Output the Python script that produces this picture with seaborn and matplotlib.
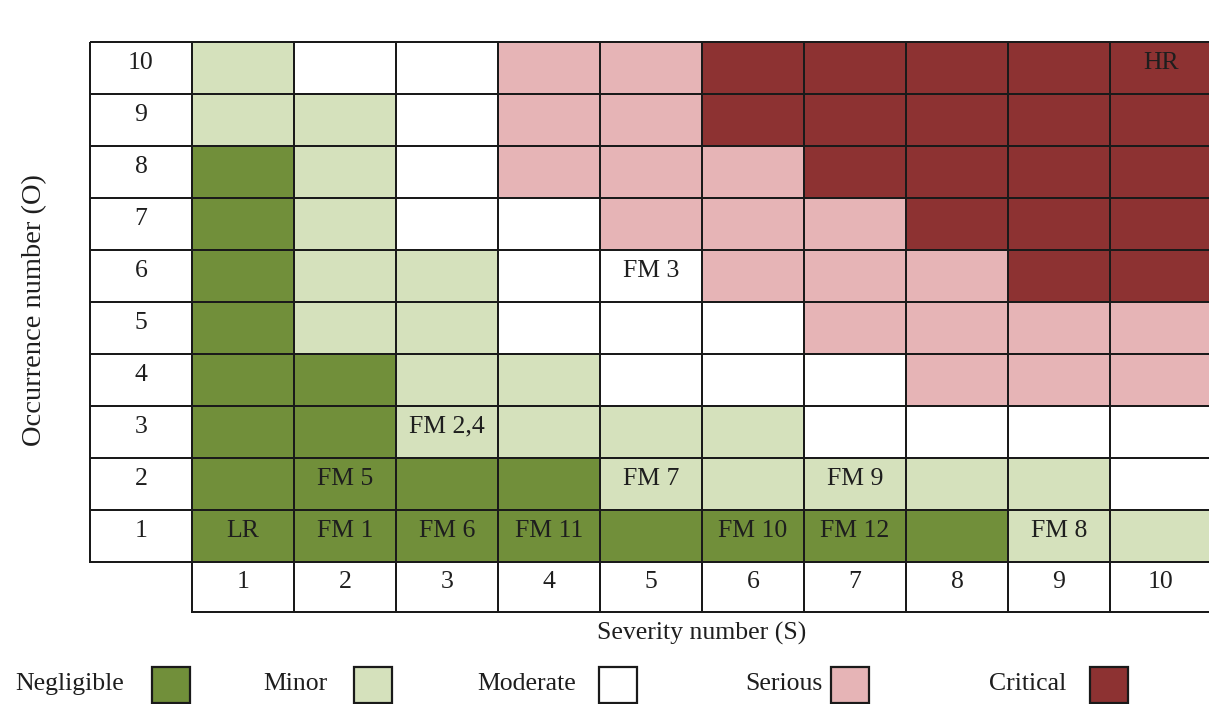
import numpy as np
import pandas as pd
import seaborn as sns
import matplotlib.pyplot as plt
from matplotlib.colors import ListedColormap
from matplotlib.patches import Rectangle

# ---------------- data ----------------
levels = ["Negligible", "Minor", "Moderate", "Serious", "Critical"]
level_colors = ["#718f3a", "#d5e1bc", "#ffffff", "#e6b4b6", "#8d3232"]
severity = [1, 2, 3, 4, 5, 6, 7, 8, 9, 10]
occurrence = [10, 9, 8, 7, 6, 5, 4, 3, 2, 1]
# risk level index (0=Negligible .. 4=Critical) per occurrence row, top (O=10) to bottom (O=1)
risk_o10 = [1, 2, 2, 3, 3, 4, 4, 4, 4, 4]
risk_o9 = [1, 1, 2, 3, 3, 4, 4, 4, 4, 4]
risk_o8 = [0, 1, 2, 3, 3, 3, 4, 4, 4, 4]
risk_o7 = [0, 1, 2, 2, 3, 3, 3, 4, 4, 4]
risk_o6 = [0, 1, 1, 2, 2, 3, 3, 3, 4, 4]
risk_o5 = [0, 1, 1, 2, 2, 2, 3, 3, 3, 3]
risk_o4 = [0, 0, 1, 1, 2, 2, 2, 3, 3, 3]
risk_o3 = [0, 0, 1, 1, 1, 1, 2, 2, 2, 2]
risk_o2 = [0, 0, 0, 0, 1, 1, 1, 1, 1, 2]
risk_o1 = [0, 0, 0, 0, 0, 0, 0, 0, 1, 1]
# failure mode labels placed in cells
label_text = ["HR", "FM 3", "FM 2,4", "FM 5", "FM 7", "FM 9",
              "LR", "FM 1", "FM 6", "FM 11", "FM 10", "FM 12", "FM 8"]
label_occ = [10, 6, 3, 2, 2, 2, 1, 1, 1, 1, 1, 1, 1]
label_sev = [10, 5, 3, 2, 5, 7, 1, 2, 3, 4, 6, 7, 9]

# ---------------- style ----------------
sns.set_theme(style="white")
plt.rcParams["font.family"] = ["Liberation Serif", "DejaVu Serif"]
FS = 18.5
TXT = "#1e1e1e"

W, H = 1209, 704
fig = plt.figure(figsize=(W / 100, H / 100), dpi=100)
fig.patch.set_facecolor("white")


def px_axes(x0, y0, x1, y1):
    return fig.add_axes([x0 / W, 1 - y1 / H, (x1 - x0) / W, (y1 - y0) / H])


risk = pd.DataFrame([risk_o10, risk_o9, risk_o8, risk_o7, risk_o6,
                     risk_o5, risk_o4, risk_o3, risk_o2, risk_o1],
                    index=occurrence, columns=severity)

cmap = ListedColormap(level_colors)
LW = 1.3

# main matrix
ax = px_axes(192, 42, 1212, 562)
sns.heatmap(risk, ax=ax, cmap=cmap, vmin=-0.5, vmax=4.5, cbar=False,
            linewidths=LW, linecolor="#1a1a1a", square=False)
ax.collections[0].set_clip_on(False)
ax.set_xticks([]); ax.set_yticks([])
ax.set_xlabel(""); ax.set_ylabel("")
for t, o, s in zip(label_text, label_occ, label_sev):
    r = occurrence.index(o)
    c = severity.index(s)
    ax.text(c + 0.5, r + 0.4, t, ha="center", va="center",
            fontsize=FS, color=TXT)

# y tick boxes
white = ListedColormap(["#ffffff"])
axy = px_axes(90, 42, 192, 562)
sns.heatmap(pd.DataFrame(np.zeros((10, 1)), index=occurrence), ax=axy,
            cmap=white, cbar=False, linewidths=LW, linecolor="#1a1a1a")
axy.collections[0].set_clip_on(False)
axy.set_xticks([]); axy.set_yticks([])
for r, o in enumerate(occurrence):
    axy.text(0.5, r + 0.4, str(o), ha="center", va="center",
             fontsize=FS, color=TXT)

# x tick boxes
axx = px_axes(192, 562, 1212, 612)
sns.heatmap(pd.DataFrame(np.zeros((1, 10)), columns=severity), ax=axx,
            cmap=white, cbar=False, linewidths=LW, linecolor="#1a1a1a")
axx.collections[0].set_clip_on(False)
axx.set_xticks([]); axx.set_yticks([])
for c, s in enumerate(severity):
    axx.text(c + 0.5, 0.4, str(s), ha="center", va="center",
             fontsize=FS, color=TXT)

# axis titles
fig.text(702 / W, 1 - 633 / H, "Severity number (S)", ha="center",
         va="center", fontsize=FS, color=TXT)
fig.text(35 / W, 1 - 310 / H, "Occurrence number (O)", ha="center",
         va="center", rotation=90, fontsize=20.5, color=TXT)

# legend
text_x = [15, 263, 477, 745, 989]
box_x = [152, 354, 599, 831, 1090]
for name, col, tx, bx in zip(levels, level_colors, text_x, box_x):
    fig.text(tx / W, 1 - 684 / H, name, ha="left", va="center",
             fontsize=FS, color=TXT)
    fig.add_artist(Rectangle((bx / W, 1 - 703 / H), 38 / W, 36 / H,
                             transform=fig.transFigure, facecolor=col,
                             edgecolor="#1a1a1a", linewidth=1.6))

fig.savefig("out.png", dpi=100, facecolor="white")
